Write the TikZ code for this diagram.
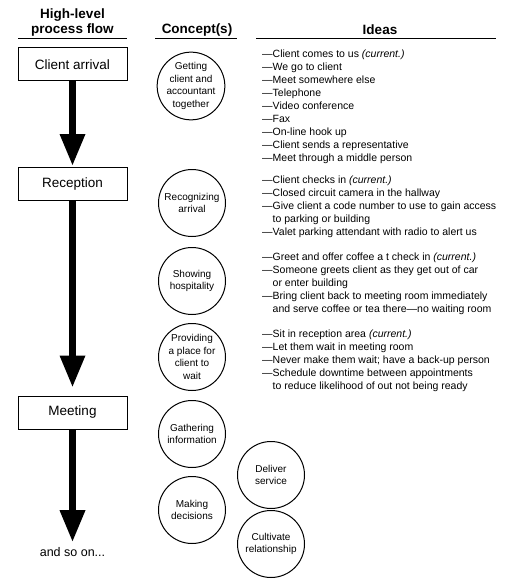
\documentclass[tikz,border=0pt]{standalone}
\usepackage{fontspec}
\setmainfont{Liberation Sans}
\usetikzlibrary{arrows.meta}

\begin{document}
\begin{tikzpicture}[x=1pt, y=-1pt,
  every node/.style={align=center},
  stagebox/.style={draw, line width=1pt, minimum width=109pt, minimum height=33pt, font=\fontsize{13.5}{15}\selectfont},
  concept/.style={draw, circle, line width=1pt, minimum size=67pt, inner sep=0pt, font=\fontsize{10}{12.5}\selectfont},
  ideas/.style={anchor=north west, inner sep=0pt, align=left, font=\fontsize{10.5}{13}\selectfont},
  heading/.style={font=\fontsize{13.5}{15}\selectfont\bfseries},
  flow/.style={line width=7pt, -{Triangle[length=31pt, width=26pt, line width=0pt]}}]
  \useasboundingbox (0,0) rectangle (508,583);

  % column headings
  \node[heading] (hflow) at (72.5,22.5) {High-level\\process flow};
  \node[heading] (hconcept) at (197,30) {Concept(s)};
  \node[heading] (hideas) at (380,30) {Ideas};
  \draw[line width=1pt] (18,39) -- (127,39);
  \draw[line width=1pt] (155,39) -- (237,39);
  \draw[line width=1pt] (256,39) -- (496,39);

  % process flow
  \node[stagebox] (arrival) at (72.5,64.5) {Client arrival};
  \node[stagebox] (reception) at (72.5,184) {Reception};
  \node[stagebox] (meeting) at (72.5,412.5) {Meeting};
  \node[inner sep=0pt, font=\fontsize{12.5}{14}\selectfont] (etc) at (72.5,552) {and so on...};
  \draw[flow, shorten >=2pt] (arrival) -- (reception);
  \draw[flow, shorten >=9pt] (reception) -- (meeting);
  \draw[flow, shorten >=6pt] (meeting) -- (etc);

  % concepts
  \node[concept] (getting) at (191,86) {Getting\\client and\\accountant\\together};
  \node[concept] (recognizing) at (192,203) {Recognizing\\arrival};
  \node[concept] (hospitality) at (192,281) {Showing\\hospitality};
  \node[concept] (waiting) at (192,357) {Providing\\a place for\\client to\\wait};
  \node[concept] (gathering) at (192,434) {Gathering\\information};
  \node[concept] (deciding) at (192,510) {Making\\decisions};
  \node[concept] (deliver) at (271,475) {Deliver\\service};
  \node[concept] (cultivate) at (271,544) {Cultivate\\relationship};

  % ideas
  \node[ideas] (ideasArrival) at (262,50) {—Client comes to us \textit{(current.)}\\
    —We go to client\\
    —Meet somewhere else\\
    —Telephone\\
    —Video conference\\
    —Fax\\
    —On-line hook up\\
    —Client sends a representative\\
    —Meet through a middle person};
  \node[ideas] (ideasRecognize) at (262,176) {—Client checks in \textit{(current.)}\\
    —Closed circuit camera in the hallway\\
    —Give client a code number to use to gain access\\
    \phantom{—}to parking or building\\
    —Valet parking attendant with radio to alert us};
  \node[ideas] (ideasHospitality) at (262,253) {—Greet and offer coffee a t check in \textit{(current.)}\\
    —Someone greets client as they get out of car\\
    \phantom{—}or enter building\\
    —Bring client back to meeting room immediately\\
    \phantom{—}and serve coffee or tea there—no waiting room};
  \node[ideas] (ideasWaiting) at (262,330) {—Sit in reception area \textit{(current.)}\\
    —Let them wait in meeting room\\
    —Never make them wait; have a back-up person\\
    —Schedule downtime between appointments\\
    \phantom{—}to reduce likelihood of out not being ready};
\end{tikzpicture}
\end{document}
